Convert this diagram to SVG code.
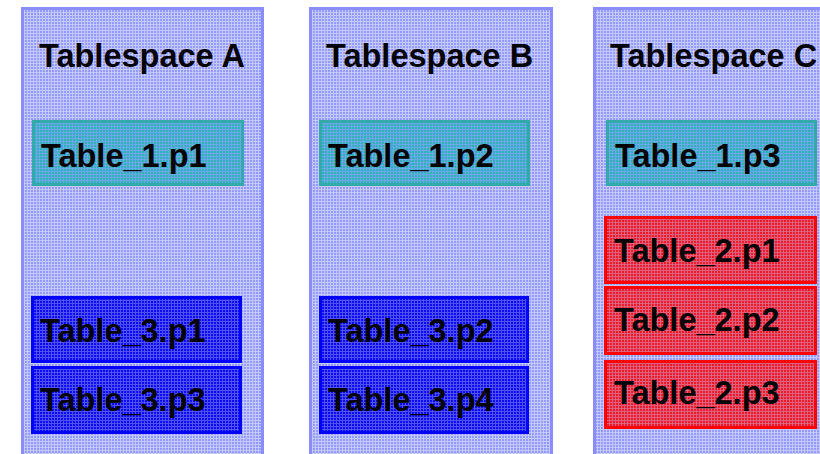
<svg xmlns="http://www.w3.org/2000/svg" width="820" height="454" viewBox="0 0 820 454">
<defs>
<pattern id="gBlue" width="3" height="3" patternUnits="userSpaceOnUse">
<rect width="3" height="3" fill="#949bff"/>
<path d="M0 0.5H3M0.5 0V3" stroke="#c4c8ff" stroke-width="1"/>
</pattern>
<pattern id="gTeal" width="3" height="3" patternUnits="userSpaceOnUse">
<rect width="3" height="3" fill="#30b0b8"/>
<path d="M0 0.5H3M0.5 0V3" stroke="#6aa8e8" stroke-width="1"/>
</pattern>
<pattern id="gRed" width="3" height="3" patternUnits="userSpaceOnUse">
<rect width="3" height="3" fill="#ea1c2c"/>
<path d="M0 0.5H3M0.5 0V3" stroke="#e0607c" stroke-width="1"/>
</pattern>
<pattern id="gDark" width="3" height="3" patternUnits="userSpaceOnUse">
<rect width="3" height="3" fill="#0c0cf0"/>
<path d="M0 0.5H3M0.5 0V3" stroke="#5050f6" stroke-width="1"/>
</pattern>
</defs>
<style>
.ts{fill:url(#gBlue);stroke:#8a8cff;stroke-width:3}
.t1{fill:url(#gTeal);stroke:#33aaaa;stroke-width:3}
.t2{fill:url(#gRed);stroke:#ff0000;stroke-width:3}
.t3{fill:url(#gDark);stroke:#0000ff;stroke-width:3}
text{font-family:"Liberation Sans",Arial,sans-serif;font-weight:bold;font-size:32.5px;fill:#000}
</style>
<rect width="820" height="454" fill="#ffffff"/>
<g id="tablespaceA">
<rect class="ts" x="22.5" y="8.5" width="240" height="450"/>
<text x="39" y="67">Tablespace A</text>
</g>
<g id="tablespaceB">
<rect class="ts" x="310.5" y="8.5" width="241" height="450"/>
<text x="326" y="67">Tablespace B</text>
</g>
<g id="tablespaceC">
<rect class="ts" x="594.5" y="8.5" width="240" height="450"/>
<text x="610" y="67">Tablespace C</text>
</g>
<g id="table1p1">
<rect class="t1" x="33.5" y="121.5" width="209" height="63"/>
<text x="41" y="167">Table_1.p1</text>
</g>
<g id="table1p2">
<rect class="t1" x="320.5" y="121.5" width="208" height="63"/>
<text x="328" y="167">Table_1.p2</text>
</g>
<g id="table1p3">
<rect class="t1" x="607.5" y="121.5" width="208" height="63"/>
<text x="615" y="167">Table_1.p3</text>
</g>
<g id="table3p1">
<rect class="t3" x="32.5" y="297.5" width="208" height="64"/>
<text x="40" y="342">Table_3.p1</text>
</g>
<g id="table3p3">
<rect class="t3" x="32.5" y="367.5" width="208" height="65"/>
<text x="40" y="411">Table_3.p3</text>
</g>
<g id="table3p2">
<rect class="t3" x="320.5" y="297.5" width="207" height="64"/>
<text x="328" y="342">Table_3.p2</text>
</g>
<g id="table3p4">
<rect class="t3" x="320.5" y="367.5" width="207" height="65"/>
<text x="328" y="411">Table_3.p4</text>
</g>
<g id="table2p1">
<rect class="t2" x="605.5" y="217.5" width="210" height="65"/>
<text x="614" y="262">Table_2.p1</text>
</g>
<g id="table2p2">
<rect class="t2" x="605.5" y="287.5" width="210" height="66"/>
<text x="614" y="331">Table_2.p2</text>
</g>
<g id="table2p3">
<rect class="t2" x="605.5" y="361.5" width="210" height="66"/>
<text x="614" y="404">Table_2.p3</text>
</g>
<g id="connectors"/>
</svg>
